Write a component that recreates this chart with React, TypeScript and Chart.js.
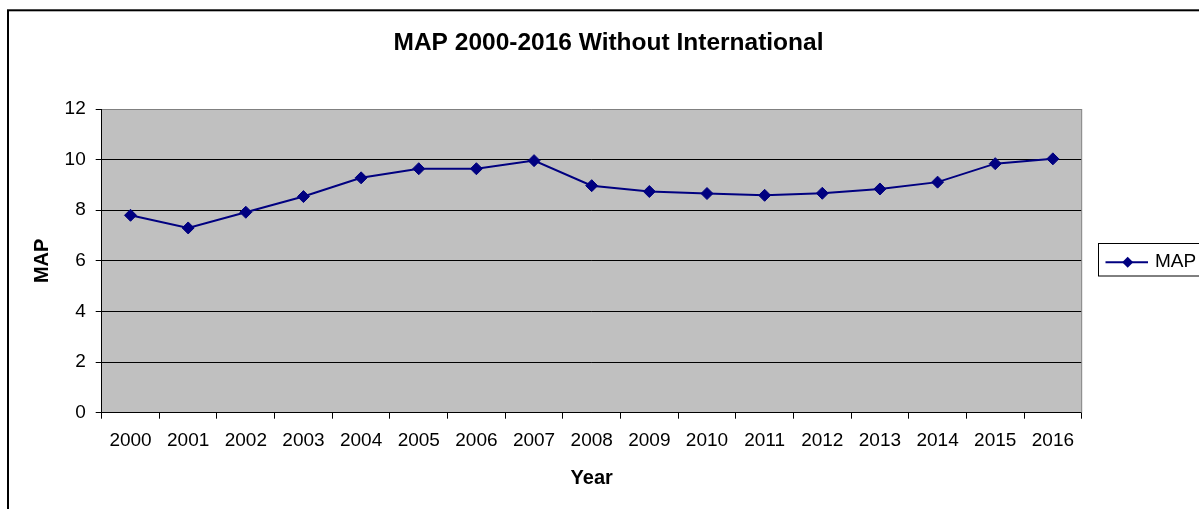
import React, { useEffect, useRef } from "react";
import { Chart, registerables } from "chart.js";

Chart.register(...registerables);

const categories: string[] = [
  "2000", "2001", "2002", "2003", "2004", "2005", "2006", "2007", "2008",
  "2009", "2010", "2011", "2012", "2013", "2014", "2015", "2016",
];
const mapValues: number[] = [
  7.8, 7.3, 7.92, 8.54, 9.28, 9.64, 9.64, 9.96, 8.97,
  8.74, 8.66, 8.59, 8.67, 8.84, 9.11, 9.84, 10.03,
];
const seriesLabel = "MAP";
const chartTitle = "MAP 2000-2016 Without International";
const xTitle = "Year";
const yTitle = "MAP";

const FONT = "'Liberation Sans', Arial, Helvetica, sans-serif";
const NAVY = "#000080";

const decorPlugin = {
  id: "decor",
  beforeDraw(chart: any) {
    const { ctx, chartArea } = chart;
    ctx.save();
    ctx.fillStyle = "#ffffff";
    ctx.fillRect(0, 0, chart.width, chart.height);
    ctx.fillStyle = "#C0C0C0";
    ctx.fillRect(chartArea.left, chartArea.top, chartArea.right - chartArea.left, chartArea.bottom - chartArea.top);
    ctx.strokeStyle = "#000";
    ctx.lineWidth = 2;
    ctx.strokeRect(8, 10.3, 1400, 700);
    ctx.fillStyle = "#000";
    ctx.font = `bold 24.5px ${FONT}`;
    ctx.textAlign = "center";
    ctx.textBaseline = "middle";
    ctx.fillText(chartTitle, 608.5, 43.5);
    ctx.restore();
  },
  afterDraw(chart: any) {
    const { ctx, chartArea } = chart;
    ctx.save();
    ctx.strokeStyle = "#808080";
    ctx.lineWidth = 1;
    ctx.beginPath();
    ctx.moveTo(chartArea.right, chartArea.top);
    ctx.lineTo(chartArea.right, chartArea.bottom);
    ctx.stroke();
    ctx.strokeStyle = "#000";
    ctx.lineWidth = 1;
    ctx.strokeRect(1098.5, 243.5, 120, 32.5);
    ctx.strokeStyle = NAVY;
    ctx.lineWidth = 2;
    ctx.beginPath();
    ctx.moveTo(1105.5, 262.3);
    ctx.lineTo(1148, 262.3);
    ctx.stroke();
    ctx.fillStyle = NAVY;
    ctx.beginPath();
    const cx = 1127.7, cy = 262.3, r = 5.5;
    ctx.moveTo(cx, cy - r);
    ctx.lineTo(cx + r, cy);
    ctx.lineTo(cx, cy + r);
    ctx.lineTo(cx - r, cy);
    ctx.closePath();
    ctx.fill();
    ctx.fillStyle = "#000";
    ctx.font = `19px ${FONT}`;
    ctx.textAlign = "left";
    ctx.textBaseline = "middle";
    ctx.fillText(seriesLabel, 1155, 261.5);
    ctx.restore();
  },
};

export default function App() {
  const canvasRef = useRef<HTMLCanvasElement | null>(null);

  useEffect(() => {
    document.body.style.margin = "0";
    const canvas = canvasRef.current;
    if (!canvas) return;
    const chart = new Chart(canvas, {
      type: "line",
      data: {
        labels: categories,
        datasets: [
          {
            label: seriesLabel,
            data: mapValues,
            borderColor: NAVY,
            backgroundColor: NAVY,
            borderWidth: 2,
            pointStyle: "rectRot",
            pointRadius: 6,
            pointBorderWidth: 1,
            pointBackgroundColor: NAVY,
            pointBorderColor: NAVY,
            tension: 0,
            fill: false,
          },
        ],
      },
      options: {
        responsive: false,
        animation: false,
        devicePixelRatio: 1,
        layout: { padding: { left: 0, right: 117.3, top: 109, bottom: 0 } },
        plugins: {
          legend: { display: false },
          title: { display: false },
          tooltip: { enabled: false },
        },
        scales: {
          x: {
            type: "category",
            offset: true,
            grid: {
              offset: true,
              drawOnChartArea: false,
              drawTicks: true,
              tickLength: 6,
              color: "#000",
              tickColor: "#000",
            },
            border: { display: true, color: "#000", width: 1 },
            ticks: {
              color: "#000",
              font: { family: FONT, size: 19 },
              padding: 11,
              maxRotation: 0,
              autoSkip: false,
            },
            title: {
              display: true,
              text: xTitle,
              color: "#000",
              font: { family: FONT, size: 20, weight: "bold" },
              padding: { top: 0, bottom: 19 },
            },
            afterFit(scale: any) {
              scale.height = 96.3;
            },
          },
          y: {
            min: 0,
            max: 12,
            ticks: {
              stepSize: 2,
              color: "#000",
              font: { family: FONT, size: 19 },
              padding: 10,
            },
            grid: {
              drawTicks: true,
              tickLength: 6,
              color: (c: any) => (c.tick && c.tick.value === 12 ? "#808080" : "#000"),
              tickColor: "#000",
            },
            border: { display: true, color: "#000", width: 1 },
            title: {
              display: true,
              text: yTitle,
              color: "#000",
              font: { family: FONT, size: 20, weight: "bold" },
              padding: { top: 30, bottom: 0 },
            },
            afterFit(scale: any) {
              scale.width = 101.7;
            },
          },
        },
      },
      plugins: [decorPlugin],
    });
    return () => chart.destroy();
  }, []);

  return (
    <div style={{ width: 1199, height: 509 }}>
      <canvas ref={canvasRef} width={1199} height={509} style={{ display: "block" }} />
    </div>
  );
}
